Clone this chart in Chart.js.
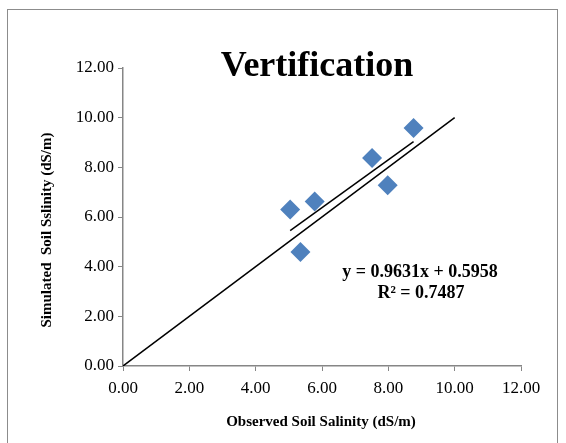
<!DOCTYPE html>
<html>
<head>
<meta charset="utf-8">
<script src="https://cdn.jsdelivr.net/npm/chart.js@4.4.0/dist/chart.umd.min.js"></script>
<style>body{margin:0;background:#fff}</style>
</head>
<body>
<canvas id="myChart" width="566" height="443"></canvas>
<script>
// observed vs simulated soil salinity (dS/m)
var observed  = [5.04, 5.78, 5.35, 7.51, 7.98, 8.76];
var simulated = [6.30, 6.62, 4.59, 8.38, 7.28, 9.58];
// 1:1 reference line end points
var refX = [0, 10];
// trend line from the chart label
var slope = 0.9631, intercept = 0.5958, rSquared = 0.7487;
var axisMin = 0, axisMax = 12, axisStep = 2;

var points = observed.map((v, i) => ({x: v, y: simulated[i]}));
var refLine = refX.map(v => ({x: v, y: v}));
var xLo = Math.min.apply(null, observed), xHi = Math.max.apply(null, observed);
var trend = [xLo, xHi].map(v => ({x: v, y: slope * v + intercept}));

var textPlugin = {
  id: 'texts',
  beforeDraw: function(chart) {
    var c = chart.ctx;
    c.save();
    c.strokeStyle = '#8c8c8c';
    c.lineWidth = 1;
    c.strokeRect(7.5, 9.5, 550, 440);
    c.restore();
  },
  afterDraw: function(chart) {
    var c = chart.ctx;
    c.save();
    c.fillStyle = '#000';
    c.textAlign = 'center';
    c.textBaseline = 'alphabetic';
    c.font = 'bold 36px "Liberation Serif"';
    c.fillText('Vertification', 317, 76);
    c.font = 'bold 18px "Liberation Serif"';
    c.fillText('y = 0.9631x + 0.5958', 420, 277);
    c.fillText('R\u00b2 = ' + rSquared.toFixed(4), 421, 298);
    c.font = 'bold 15px "Liberation Serif"';
    c.fillText('Observed Soil Salinity (dS/m)', 321, 426);
    c.translate(51, 230);
    c.rotate(-Math.PI / 2);
    c.fillText('Simulated  Soil Sslinity (dS/m)', 0, 0);
    c.restore();
  }
};

var axisCommon = {
  type: 'linear',
  min: axisMin, max: axisMax,
  ticks: {
    stepSize: axisStep,
    color: '#000',
    font: {family: 'Liberation Serif', size: 17},
    callback: v => v.toFixed(2)
  },
  grid: {drawOnChartArea: false, color: '#868686', tickLength: 5},
  border: {color: '#868686', width: 1.5}
};

var ctx = document.getElementById('myChart');
var myChart = new Chart(ctx, {
  type: 'scatter',
  data: {
    datasets: [
      {data: points, pointStyle: 'rectRot', pointRadius: 10, backgroundColor: '#4F81BD', borderColor: '#4F81BD', borderWidth: 0, order: 1},
      {data: refLine, type: 'line', showLine: true, borderColor: '#000', borderWidth: 1.5, pointRadius: 0, order: 2},
      {data: trend, type: 'line', showLine: true, borderColor: '#000', borderWidth: 1.5, pointRadius: 0, order: 0}
    ]
  },
  options: {
    responsive: false,
    animation: false,
    layout: {padding: {top: 68, right: 45, left: 0, bottom: 0}},
    plugins: {legend: {display: false}, tooltip: {enabled: false}},
    scales: {
      x: Object.assign({}, axisCommon, {
        ticks: Object.assign({}, axisCommon.ticks, {padding: 7}),
        afterFit: s => { s.height = 77; }
      }),
      y: Object.assign({}, axisCommon, {
        ticks: Object.assign({}, axisCommon.ticks, {padding: 4}),
        afterFit: s => { s.width = 123; }
      })
    }
  },
  plugins: [textPlugin]
});
</script>
</body>
</html>
